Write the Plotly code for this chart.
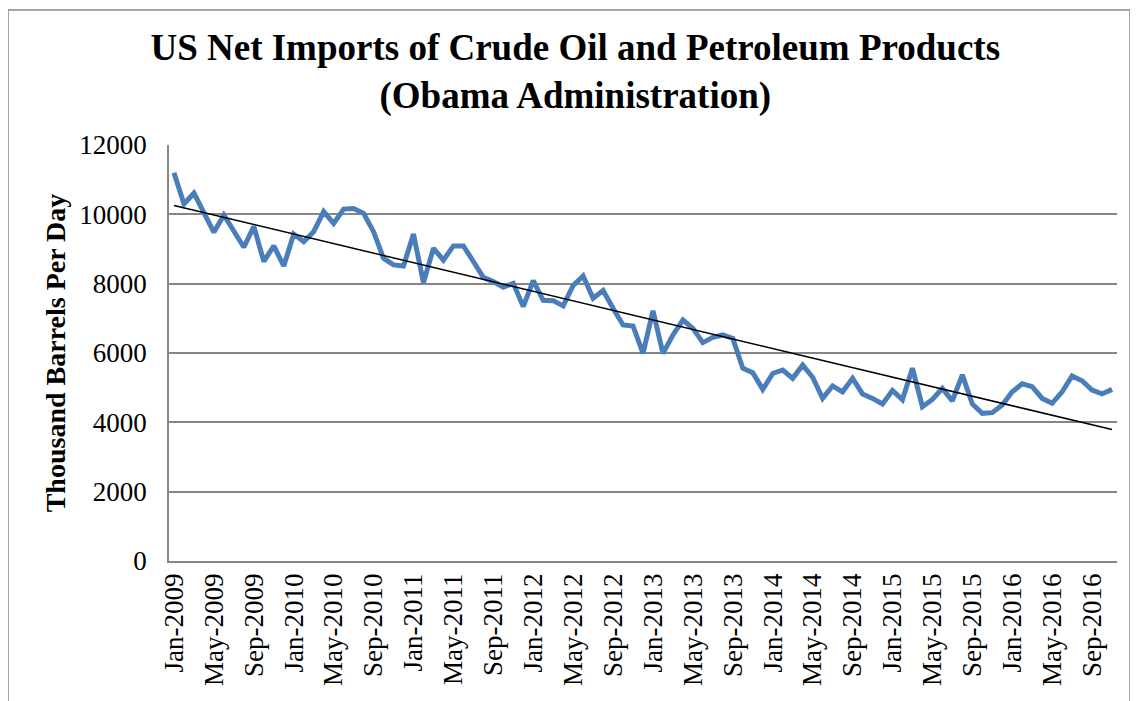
import numpy as np
import plotly.graph_objects as go

months = ["Jan", "Feb", "Mar", "Apr", "May", "Jun", "Jul", "Aug", "Sep", "Oct", "Nov", "Dec"]
categories = [f"{m}-{y}" for y in range(2009, 2017) for m in months][:95]

net_imports = [
    11200, 10300, 10610, 10030, 9480, 9980, 9500, 9050, 9650, 8640,
    9090, 8510, 9430, 9210, 9500, 10080, 9740, 10150, 10170, 10030,
    9500, 8730, 8540, 8510, 9430, 8030, 9020, 8680, 9090, 9090,
    8640, 8180, 8060, 7900, 8010, 7340, 8090, 7520, 7510, 7360,
    7950, 8220, 7580, 7800, 7290, 6810, 6780, 5990, 7220, 5990,
    6520, 6950, 6710, 6300, 6450, 6520, 6420, 5560, 5430, 4950,
    5410, 5510, 5270, 5650, 5300, 4690, 5050, 4880, 5270, 4820,
    4690, 4530, 4920, 4650, 5560, 4450, 4660, 4980, 4620, 5370,
    4530, 4260, 4280, 4500, 4880, 5110, 5030, 4690, 4550, 4880,
    5340, 5200, 4930, 4820, 4950,
]

tick_labels = categories[::4]

idx = np.arange(len(net_imports))
slope, intercept = np.polyfit(idx, net_imports, 1)
trend = slope * idx + intercept

fig = go.Figure()
fig.add_trace(go.Scatter(
    x=categories, y=net_imports, mode="lines",
    line=dict(color="#4A7EBB", width=5), showlegend=False,
))
fig.add_trace(go.Scatter(
    x=categories, y=trend, mode="lines",
    line=dict(color="black", width=1.5), showlegend=False,
))

font_family = "Liberation Serif, Times New Roman, serif"

W, H = 1130, 693
L, R, T, B = 161, 21, 137, 140
pw, ph = W - L - R, H - T - B

fig.update_layout(
    width=W, height=H,
    margin=dict(l=L, r=R, t=T, b=B),
    paper_bgcolor="white", plot_bgcolor="white",
    font=dict(family=font_family, color="black", size=27),
    title=dict(
        text="<b>US Net Imports of Crude Oil and Petroleum Products<br>(Obama Administration)</b>",
        x=0.502, xanchor="center", xref="container",
        y=0.925, yanchor="middle", yref="container",
        font=dict(family=font_family, size=37, color="black"),
    ),
    xaxis=dict(
        type="category",
        tickmode="array", tickvals=tick_labels, ticktext=tick_labels,
        tickangle=-90, showgrid=False,
        showline=True, linecolor="#868686", linewidth=1.5,
        ticks="", tickfont=dict(size=27),
        range=[-0.5, len(categories) - 0.5],
    ),
    yaxis=dict(
        range=[0, 12000], tickvals=[0, 2000, 4000, 6000, 8000, 10000, 12000],
        tickformat="d",
        showgrid=True, gridcolor="#868686", gridwidth=1.5,
        showline=True, linecolor="#868686", linewidth=1.5,
        ticks="", tickfont=dict(size=27), ticklabelstandoff=15,
        title=dict(text="<b>Thousand Barrels Per Day</b>", font=dict(size=28), standoff=6),
        zeroline=False,
    ),
    shapes=[dict(
        type="rect", xref="paper", yref="paper",
        x0=(0 - L) / pw, x1=(1122 - L) / pw,
        y0=(H - B - 720) / ph, y1=(H - B - 2) / ph,
        line=dict(color="#888888", width=1.5), fillcolor="rgba(0,0,0,0)",
        layer="below",
    )],
)

fig.write_html("out.html")
